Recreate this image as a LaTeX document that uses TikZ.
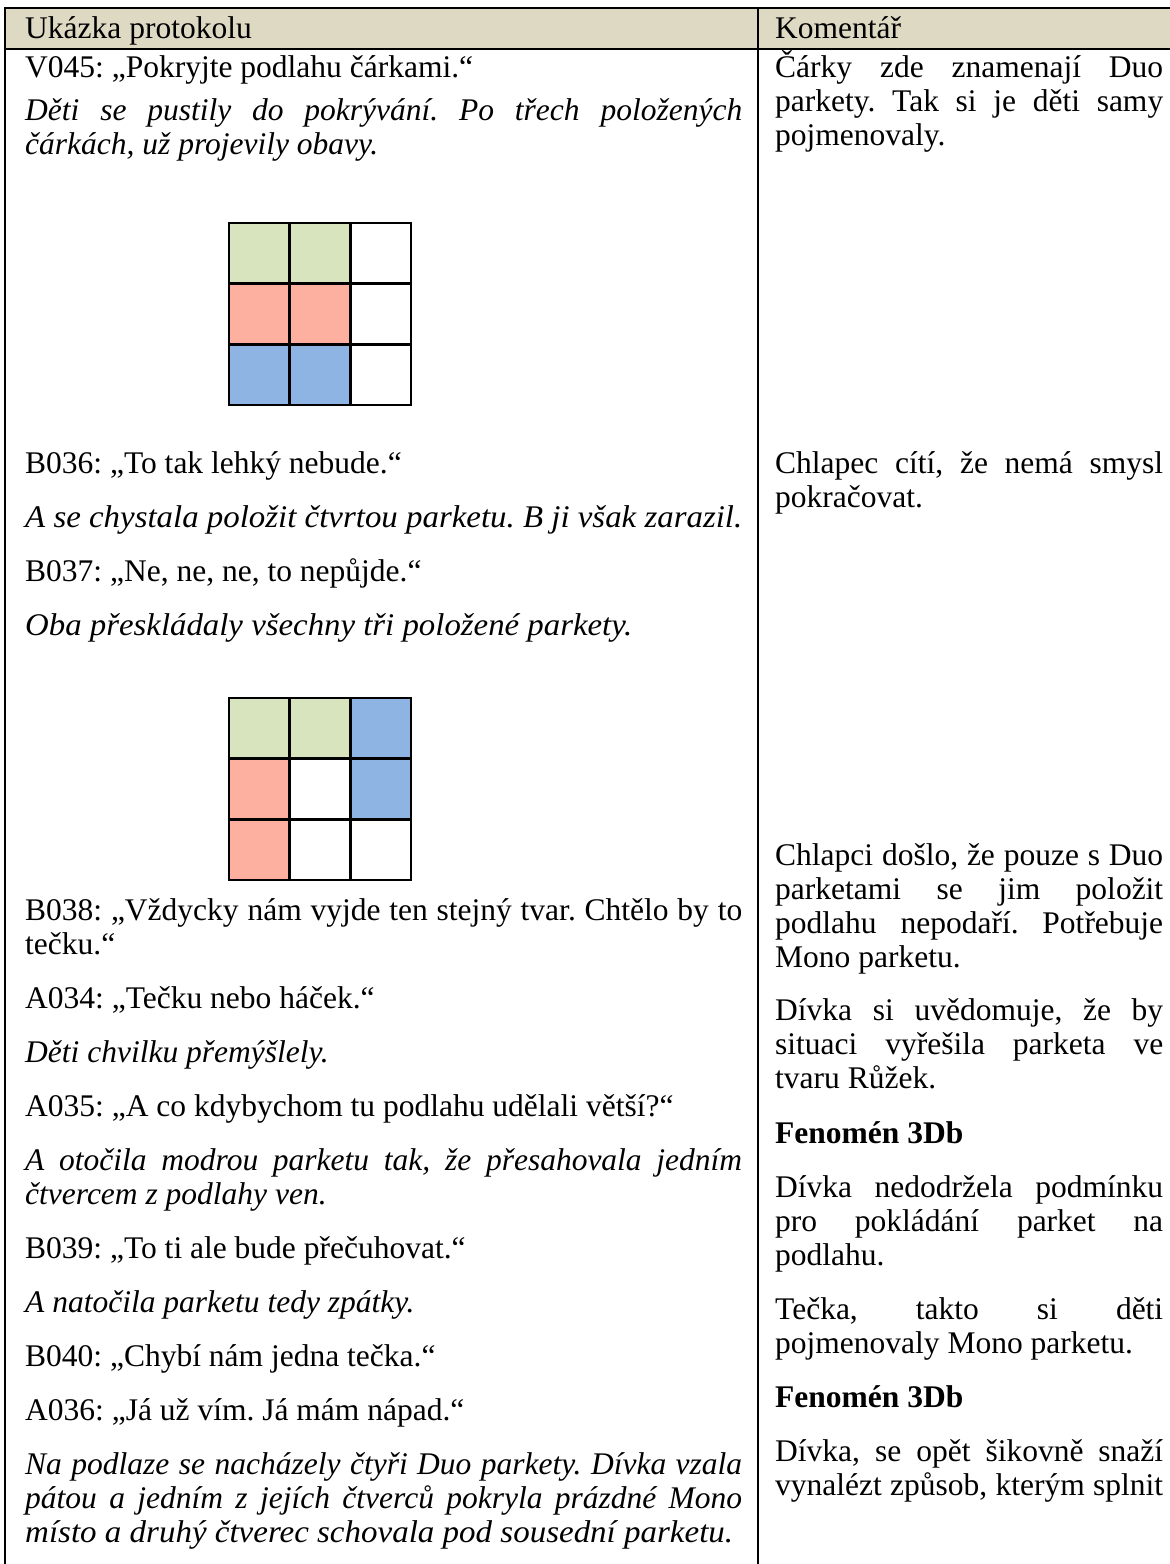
\documentclass[tikz,border=0pt]{standalone}
\usepackage{fontspec}
\usepackage{graphicx}
\setmainfont{Liberation Serif}
\definecolor{headbg}{RGB}{221,217,195}
\definecolor{pgreen}{RGB}{215,228,189}
\definecolor{pred}{RGB}{253,175,160}
\definecolor{pblue}{RGB}{142,180,227}
\newcommand{\jl}[1]{\makebox[717pt][s]{#1}}
\newcommand{\jr}[1]{\makebox[388pt][s]{#1}}
\newcommand{\fitw}[2]{\resizebox{#1}{\height}{#2}}
\tikzset{
  txt/.style={anchor=base west, inner sep=0pt, font=\fontsize{31.5}{34}\selectfont\frenchspacing},
  itx/.style={anchor=base west, inner sep=0pt, font=\fontsize{31.5}{34}\selectfont\frenchspacing\itshape},
  bfx/.style={anchor=base west, inner sep=0pt, font=\fontsize{31.5}{34}\selectfont\frenchspacing\bfseries},
  rule/.style={line width=2.4pt, black},
  gridline/.style={line width=2.6pt, black},
}
\begin{document}
\begin{tikzpicture}[x=1pt,y=-1pt]
\useasboundingbox (0,0) rectangle (1170,1564);
\fill[white] (0,0) rectangle (1170,1564);
% header
\fill[headbg] (5,8) rectangle (1172,49);
\draw[rule] (5,8) -- (1172,8);
\draw[rule] (5,49) -- (1172,49);
\draw[rule] (5,6.8) -- (5,1566);
\draw[rule] (758,6.8) -- (758,1566);
\node[txt] (h1) at (25,38) {Ukázka protokolu};
\node[txt] (h2) at (775,38) {Komentář};

% left column
\node[txt] (l1) at (25,77) {V045: „Pokryjte podlahu čárkami.“};
\node[itx] (l2) at (25,120) {\jl{Děti se pustily do pokrývání. Po třech položených}};
\node[itx] (l3) at (25,154) {čárkách, už projevily obavy.};

% grid 1
\fill[pgreen] (229,223) rectangle (350,284);
\fill[pred] (229,284) rectangle (350,344);
\fill[pblue] (229,344) rectangle (350,405);
\draw[gridline] (229,223) rectangle (411,405);
\draw[gridline] (289.7,223) -- (289.7,405) (350.3,223) -- (350.3,405);
\draw[gridline] (229,283.7) -- (411,283.7) (229,344.3) -- (411,344.3);

\node[txt] (l4) at (25,473) {B036: „To tak lehký nebude.“};
\node[itx] (l5) at (25,527) {\fitw{717pt}{A se chystala položit čtvrtou parketu. B ji však zarazil.}};
\node[txt] (l6) at (25,581) {B037: „Ne, ne, ne, to nepůjde.“};
\node[itx] (l7) at (25,635) {\fitw{607pt}{Oba přeskládaly všechny tři položené parkety.}};

% grid 2
\fill[pgreen] (229,698) rectangle (350,759);
\fill[pblue] (350,698) rectangle (411,819);
\fill[pred] (229,759) rectangle (289.7,880);
\draw[gridline] (229,698) rectangle (411,880);
\draw[gridline] (289.7,698) -- (289.7,880) (350.3,698) -- (350.3,880);
\draw[gridline] (229,758.7) -- (411,758.7) (229,819.3) -- (411,819.3);

\node[txt] (l8) at (25,920) {\jl{B038: „Vždycky nám vyjde ten stejný tvar. Chtělo by to}};
\node[txt] (l9) at (25,954) {tečku.“};
\node[txt] (l10) at (25,1008) {A034: „Tečku nebo háček.“};
\node[itx] (l11) at (25,1062) {Děti chvilku přemýšlely.};
\node[txt] (l12) at (25,1116) {A035: „A co kdybychom tu podlahu udělali větší?“};
\node[itx] (l13) at (25,1170) {\jl{A otočila modrou parketu tak, že přesahovala jedním}};
\node[itx] (l14) at (25,1204) {čtvercem z podlahy ven.};
\node[txt] (l15) at (25,1258) {B039: „To ti ale bude přečuhovat.“};
\node[itx] (l16) at (25,1312) {A natočila parketu tedy zpátky.};
\node[txt] (l17) at (25,1366) {B040: „Chybí nám jedna tečka.“};
\node[txt] (l18) at (25,1420) {A036: „Já už vím. Já mám nápad.“};
\node[itx] (l19) at (25,1474) {\jl{Na podlaze se nacházely čtyři Duo parkety. Dívka vzala}};
\node[itx] (l20) at (25,1508) {\jl{pátou a jedním z jejích čtverců pokryla prázdné Mono}};
\node[itx] (l21) at (25,1542) {\fitw{708pt}{místo a druhý čtverec schovala pod sousední parketu.}};

% right column
\node[txt] (r1) at (775,77) {\jr{Čárky zde znamenají Duo}};
\node[txt] (r2) at (775,111) {\jr{parkety. Tak si je děti samy}};
\node[txt] (r3) at (775,145) {pojmenovaly.};
\node[txt] (r4) at (775,473) {\jr{Chlapec cítí, že nemá smysl}};
\node[txt] (r5) at (775,507) {pokračovat.};
\node[txt] (r6) at (775,865) {\jr{Chlapci došlo, že pouze s Duo}};
\node[txt] (r7) at (775,899) {\jr{parketami se jim položit}};
\node[txt] (r8) at (775,933) {\jr{podlahu nepodaří. Potřebuje}};
\node[txt] (r9) at (775,967) {Mono parketu.};
\node[txt] (r10) at (775,1020) {\jr{Dívka si uvědomuje, že by}};
\node[txt] (r11) at (775,1054) {\jr{situaci vyřešila parketa ve}};
\node[txt] (r12) at (775,1088) {tvaru Růžek.};
\node[bfx] (r13) at (775,1143) {Fenomén 3Db};
\node[txt] (r14) at (775,1197) {\jr{Dívka nedodržela podmínku}};
\node[txt] (r15) at (775,1231) {\jr{pro pokládání parket na}};
\node[txt] (r16) at (775,1265) {podlahu.};
\node[txt] (r17) at (775,1319) {\jr{Tečka, takto si děti}};
\node[txt] (r18) at (775,1353) {pojmenovaly Mono parketu.};
\node[bfx] (r19) at (775,1407) {Fenomén 3Db};
\node[txt] (r20) at (775,1461) {\jr{Dívka, se opět šikovně snaží}};
\node[txt] (r21) at (775,1495) {\jr{vynalézt způsob, kterým splnit}};
\end{tikzpicture}
\end{document}
